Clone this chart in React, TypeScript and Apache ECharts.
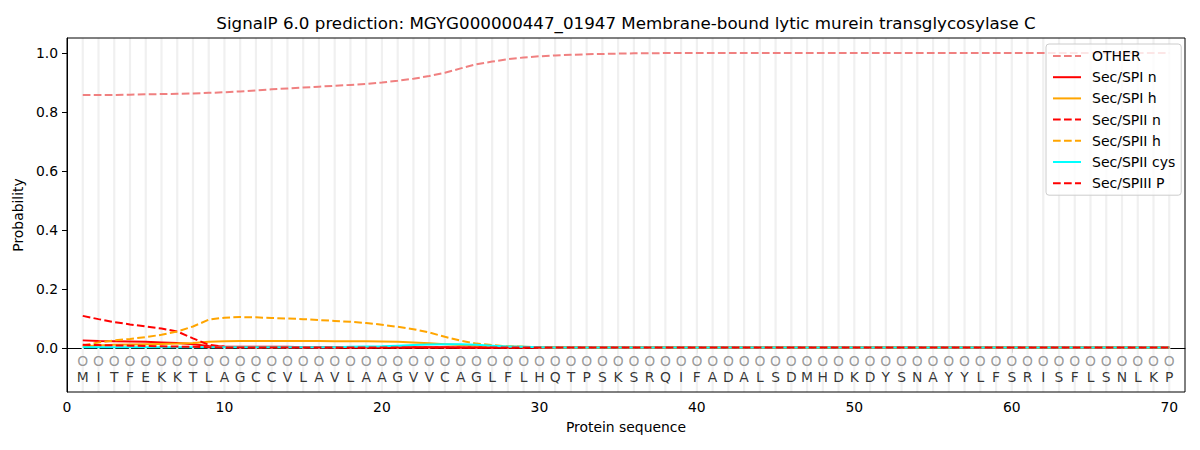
import React, { useEffect, useRef } from "react";
import * as echarts from "echarts";

const sequence = "MITFEKKTLAGCCVLAVLAAGVVCAGLFLHQTPSKSRQIFADALSDMHDKDYSNAYYLFSRISFLSNLKP".split("");
const predicted = "OOOOOOOOOOOOOOOOOOOOOOOOOOOOOOOOOOOOOOOOOOOOOOOOOOOOOOOOOOOOOOOOOOOOOO".split("");
const positions = sequence.map((_, i) => i + 1);

const seriesNames = ["OTHER", "Sec/SPI n", "Sec/SPI h", "Sec/SPII n", "Sec/SPII h", "Sec/SPII cys", "Sec/SPIII P"];

const rest = (n: number, v: number) => Array(n).fill(v);

const other = [
  0.857, 0.857, 0.857, 0.858, 0.859, 0.86, 0.861, 0.862, 0.864, 0.866,
  0.869, 0.872, 0.876, 0.879, 0.882, 0.885, 0.888, 0.891, 0.894, 0.899,
  0.905, 0.912, 0.921, 0.932, 0.947, 0.961, 0.97, 0.978, 0.984, 0.988,
  0.991, 0.993, 0.995, 0.996, 0.997, 0.998, 0.998,
  ...rest(33, 0.999),
];
const spiN = [
  0.025, 0.023, 0.022, 0.021, 0.02, 0.018, 0.016, 0.012, 0.006, 0.004,
  0.003, 0.003, 0.003, 0.003, 0.002, 0.002, 0.002, 0.002, 0.002, 0.002,
  0.002, 0.002, 0.002, 0.002, 0.001,
  ...rest(45, 0.001),
];
const spiH = [
  0.005, 0.008, 0.01, 0.011, 0.012, 0.013, 0.014, 0.016, 0.02, 0.022,
  0.023, 0.023, 0.023, 0.023, 0.023, 0.023, 0.022, 0.022, 0.022, 0.021,
  0.02, 0.018, 0.015, 0.012, 0.009, 0.007, 0.005, 0.004, 0.003, 0.002,
  ...rest(40, 0.001),
];
const spiiN = [
  0.108, 0.097, 0.087, 0.079, 0.072, 0.065, 0.055, 0.032, 0.01, 0.003,
  0.002, 0.001,
  ...rest(58, 0.001),
];
const spiiH = [
  0.008, 0.018, 0.025, 0.03, 0.036, 0.044, 0.055, 0.072, 0.095, 0.102,
  0.104, 0.103, 0.101, 0.099, 0.097, 0.094, 0.091, 0.088, 0.084, 0.078,
  0.071, 0.063, 0.052, 0.037, 0.024, 0.014, 0.009, 0.005, 0.003, 0.002,
  ...rest(40, 0.001),
];
const spiiCys = [
  0.002, 0.002, 0.002, 0.002, 0.002, 0.002, 0.002, 0.002, 0.002, 0.002,
  0.002, 0.002, 0.002, 0.002, 0.002, 0.002, 0.002, 0.003, 0.004, 0.005,
  0.007, 0.009, 0.011, 0.012, 0.012, 0.01, 0.007, 0.004, 0.003, 0.002,
  ...rest(40, 0.001),
];
const spiiiP = [
  0.01, 0.009, 0.008, 0.007, 0.006, 0.005, 0.004, 0.003, 0.002, 0.001,
  ...rest(60, 0.001),
];

const seriesValues = [other, spiN, spiH, spiiN, spiiH, spiiCys, spiiiP];
const seriesColors = ["#F08080", "#FF0000", "#FFA500", "#FF0000", "#FFA500", "#00FFFF", "#FF0000"];
const seriesDashed = [true, false, false, true, true, false, true];

const xTicks = [0, 10, 20, 30, 40, 50, 60, 70];
const yTicks = [0, 0.2, 0.4, 0.6, 0.8, 1.0];

const TITLE = "SignalP 6.0 prediction: MGYG000000447_01947 Membrane-bound lytic murein transglycosylase C";
const FONT = "DejaVu Sans";

export default function App() {
  const ref = useRef<HTMLDivElement>(null);
  useEffect(() => {
    if (!ref.current) return;
    const chart = echarts.init(ref.current, null, { renderer: "svg" });
    const yMin = -0.15;
    const yMax = 1.05;
    const dash = [7.7, 3.3];
    const lineSeries = seriesNames.map((name, k) => ({
      name,
      type: "line",
      data: positions.map((p, i) => [p, seriesValues[k][i]]),
      showSymbol: false,
      symbol: "none",
      smooth: false,
      z: 3,
      color: seriesColors[k],
      lineStyle: {
        color: seriesColors[k],
        width: 2,
        type: seriesDashed[k] ? dash : "solid",
      },
    }));
    chart.setOption({
      animation: false,
      backgroundColor: "#fff",
      textStyle: { fontFamily: FONT },
      grid: { left: 67, right: 15, top: 38, bottom: 58, containLabel: false },
      graphic: [
        {
          type: "text",
          x: 626,
          y: 23,
          z: 100,
          style: {
            text: TITLE,
            fill: "#000",
            font: `16.7px "${FONT}"`,
            textAlign: "center",
            textVerticalAlign: "middle",
          },
        },
        {
          type: "rect",
          z: 100,
          shape: { x: 67, y: 38, width: 1118, height: 354 },
          style: { fill: "none", stroke: "#000", lineWidth: 1 },
          silent: true,
        },
      ],
      legend: {
        orient: "vertical",
        left: 1046,
        top: 44,
        padding: [5, 6, 5, 6],
        itemWidth: 28,
        itemHeight: 14,
        itemGap: 7.2,
        data: seriesNames,
        itemStyle: { opacity: 0 },
        backgroundColor: "rgba(255,255,255,0.8)",
        borderColor: "#cccccc",
        borderWidth: 1,
        borderRadius: 3,
        textStyle: { fontFamily: FONT, fontSize: 14, color: "#000", padding: [0, 0, 0, 6] },
      },
      xAxis: {
        type: "value",
        min: 0,
        max: 71,
        name: "Protein sequence",
        nameLocation: "middle",
        nameGap: 28,
        nameTextStyle: { fontFamily: FONT, fontSize: 13.9, color: "#000" },
        axisLine: { show: true, lineStyle: { color: "#000", width: 1 } },
        axisTick: { show: true, length: 5, lineStyle: { color: "#000" }, customValues: xTicks },
        axisLabel: { fontFamily: FONT, fontSize: 13.9, color: "#000", margin: 8, customValues: xTicks },
        splitLine: { show: false },
      },
      yAxis: {
        type: "value",
        min: yMin,
        max: yMax,
        name: "Probability",
        nameLocation: "middle",
        nameGap: 36,
        nameRotate: 90,
        nameTextStyle: { fontFamily: FONT, fontSize: 13.9, color: "#000" },
        axisLine: { show: true, lineStyle: { color: "#000", width: 1 } },
        axisTick: { show: true, length: 5, lineStyle: { color: "#000" }, customValues: yTicks },
        axisLabel: {
          fontFamily: FONT,
          fontSize: 13.9,
          color: "#000",
          margin: 9,
          customValues: yTicks,
          formatter: (v: number) => v.toFixed(1),
        },
        splitLine: { show: false },
      },
      series: [
        {
          name: "grid-lines",
          type: "custom",
          silent: true,
          z: 1,
          data: positions.map((p) => [p]),
          renderItem: (params: any, api: any) => {
            const x = api.value(0);
            const a = api.coord([x, yMin]);
            const b = api.coord([x, yMax]);
            return {
              type: "line",
              shape: { x1: a[0], y1: a[1], x2: b[0], y2: b[1] },
              style: { stroke: "#f0f0f0", lineWidth: 2.2 },
            };
          },
        },
        ...lineSeries,
        {
          name: "predicted",
          type: "scatter",
          silent: true,
          z: 4,
          symbolSize: 0,
          data: positions.map((p, i) => [p, -0.045, predicted[i]]),
          label: {
            show: true,
            position: "inside",
            formatter: (d: any) => d.value[2],
            fontFamily: FONT,
            fontSize: 13.9,
            color: "#808080",
          },
        },
        {
          name: "sequence",
          type: "scatter",
          silent: true,
          z: 4,
          symbolSize: 0,
          data: positions.map((p, i) => [p, -0.1, sequence[i]]),
          label: {
            show: true,
            position: "inside",
            formatter: (d: any) => d.value[2],
            fontFamily: FONT,
            fontSize: 13.9,
            color: "#000",
          },
        },
      ],
    });
    return () => chart.dispose();
  }, []);
  return (
    <div
      ref={ref}
      style={{ position: "fixed", left: 0, top: 0, width: 1200, height: 450 }}
    />
  );
}
